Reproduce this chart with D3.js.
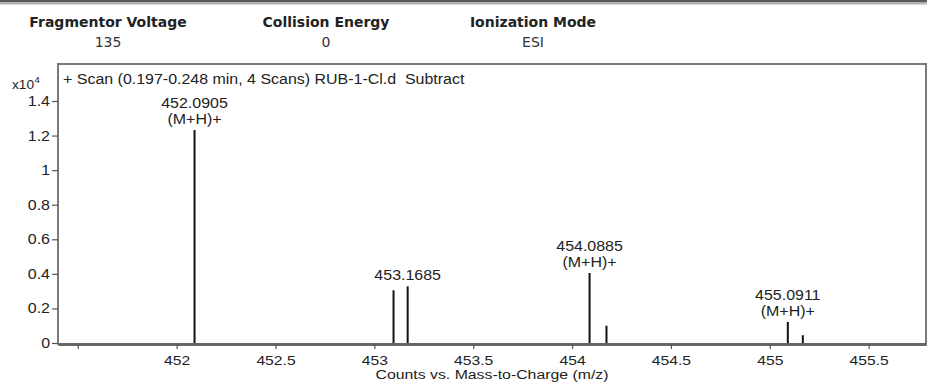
<!DOCTYPE html>
<html>
<head>
<meta charset="utf-8">
<script src="https://cdn.jsdelivr.net/npm/d3@7"></script>
<style>
  body { margin: 0; background: #fff; }
  svg { display: block; }
</style>
</head>
<body>
<script>
// Acquisition header
const headerTitles = ['Fragmentor Voltage', 'Collision Energy', 'Ionization Mode'];
const headerValues = ['135', '0', 'ESI'];

const scanTitle = '+ Scan (0.197-0.248 min, 4 Scans) RUB-1-Cl.d  Subtract';
const xTitle = 'Counts vs. Mass-to-Charge (m/z)';

// Peaks: m/z and counts (x10^4)
const peakMz = [452.0905, 453.097, 453.1685, 454.0885, 454.174, 455.0911, 455.167];
const peakCounts = [1.232, 0.305, 0.328, 0.405, 0.10, 0.122, 0.045];
const peakLabels = [
  ['452.0905', '(M+H)+'],
  [],
  ['453.1685'],
  ['454.0885', '(M+H)+'],
  [],
  ['455.0911', '(M+H)+'],
  [],
];

const xTicks = [451.5, 452, 452.5, 453, 453.5, 454, 454.5, 455, 455.5];
const yTicks = [0, 0.2, 0.4, 0.6, 0.8, 1, 1.2, 1.4];

const Layout = {
  width: 927,
  height: 385,
  plotLeft: 58,
  plotRight: 926,
  plotTop: 64,
  plotBottom: 344,
  headerCenters: [108, 326, 533],
  textStretch: 1.14,
  font: '"Liberation Sans", Arial, sans-serif',
  headerFont: '"DejaVu Sans", Verdana, sans-serif',
  labelGap: 6,
  labelLine: 16,
};

// Text in the reference is slightly wider than it is tall
function stretch(sel, k) {
  sel.each(function () {
    const w = this.getComputedTextLength();
    d3.select(this).attr('textLength', w * k).attr('lengthAdjust', 'spacingAndGlyphs');
  });
}

const svg = d3
  .select('body')
  .append('svg')
  .attr('width', Layout.width)
  .attr('height', Layout.height);

// Top separator band
svg.append('rect').attr('x', 0).attr('y', 0).attr('width', Layout.width).attr('height', 2.5).attr('fill', '#5a5a5a');
svg.append('rect').attr('x', 0).attr('y', 2.5).attr('width', Layout.width).attr('height', 2).attr('fill', '#b4b4b4');

// Header
const header = svg
  .selectAll('.header')
  .data(headerTitles)
  .enter()
  .append('g')
  .attr('class', 'header')
  .attr('transform', (d, i) => `translate(${Layout.headerCenters[i]},0)`);

header
  .append('text')
  .attr('y', 26.5)
  .attr('text-anchor', 'middle')
  .style('font-family', Layout.headerFont)
  .style('font-weight', 'bold')
  .style('font-size', '14px')
  .style('fill', '#222')
  .text(d => d);

header
  .append('text')
  .attr('y', 46.5)
  .attr('text-anchor', 'middle')
  .style('font-family', Layout.headerFont)
  .style('font-size', '14px')
  .style('fill', '#333')
  .text((d, i) => headerValues[i]);

// Scales
const x = d3
  .scaleLinear()
  .domain([451.4, 455.79])
  .range([Layout.plotLeft, Layout.plotRight]);

const y = d3
  .scaleLinear()
  .domain([0, 1.4])
  .range([343, 101]);

// Plot frame
svg
  .append('rect')
  .attr('x', Layout.plotLeft)
  .attr('y', Layout.plotTop)
  .attr('width', Layout.plotRight - Layout.plotLeft)
  .attr('height', Layout.plotBottom - Layout.plotTop)
  .attr('fill', 'none')
  .attr('stroke', '#7a7a7a')
  .attr('stroke-width', 2);

// Scan title
svg
  .append('text')
  .attr('x', 63)
  .attr('y', 84)
  .style('font-family', Layout.font)
  .style('font-size', '14px')
  .style('white-space', 'pre')
  .style('fill', '#222')
  .text(scanTitle)
  .call(stretch, Layout.textStretch);

// Exponent
svg
  .append('text')
  .attr('x', 12)
  .attr('y', 89)
  .style('font-family', Layout.font)
  .style('font-size', '12px')
  .style('fill', '#222')
  .text('x10')
  .call(stretch, Layout.textStretch);
svg
  .append('text')
  .attr('x', 34.5)
  .attr('y', 83)
  .style('font-family', Layout.font)
  .style('font-size', '9.5px')
  .style('fill', '#222')
  .text('4');

// Y axis
const yAxis = svg
  .append('g')
  .attr('transform', `translate(${Layout.plotLeft},0)`)
  .call(
    d3
      .axisLeft(y)
      .tickValues(yTicks)
      .tickSize(6)
      .tickPadding(2)
      .tickFormat(d => String(+d.toFixed(1)))
  );
yAxis.select('.domain').remove();
yAxis.selectAll('line').attr('stroke', '#555').attr('stroke-width', 1.2);
yAxis
  .selectAll('text')
  .style('font-family', Layout.font)
  .style('font-size', '14px')
  .style('fill', '#222')
  .call(stretch, Layout.textStretch);

// X axis
const xAxis = svg
  .append('g')
  .attr('transform', `translate(0,${Layout.plotBottom})`)
  .call(
    d3
      .axisBottom(x)
      .tickValues(xTicks)
      .tickSize(5)
      .tickSizeOuter(0)
      .tickPadding(6)
      .tickFormat(d => (d < 452 ? '' : String(d)))
  );
xAxis.select('.domain').attr('stroke', '#666').attr('stroke-width', 3);
xAxis.selectAll('.tick line').attr('stroke', '#555').attr('stroke-width', 1.2);
xAxis
  .selectAll('text')
  .style('font-family', Layout.font)
  .style('font-size', '13.5px')
  .style('fill', '#222')
  .filter(function () { return this.textContent !== ''; })
  .call(stretch, 1.16);

// X axis title
svg
  .append('text')
  .attr('x', (Layout.plotLeft + Layout.plotRight) / 2)
  .attr('y', 379)
  .attr('text-anchor', 'middle')
  .attr('textLength', 233)
  .attr('lengthAdjust', 'spacingAndGlyphs')
  .style('font-family', Layout.font)
  .style('font-size', '12px')
  .style('fill', '#222')
  .text(xTitle);

// Peaks
const peaks = peakMz.map((mz, i) => ({ mz, counts: peakCounts[i], label: peakLabels[i] }));

svg
  .selectAll('.peak')
  .data(peaks)
  .enter()
  .append('line')
  .attr('class', 'peak')
  .attr('x1', d => x(d.mz))
  .attr('x2', d => x(d.mz))
  .attr('y1', y(0))
  .attr('y2', d => y(d.counts))
  .attr('stroke', '#111')
  .attr('stroke-width', 2);

// Peak annotations
svg
  .selectAll('.peak-label')
  .data(peaks.filter(d => d.label.length))
  .enter()
  .append('text')
  .attr('class', 'peak-label')
  .attr('text-anchor', 'middle')
  .style('font-family', Layout.font)
  .style('font-size', '14px')
  .style('fill', '#222')
  .selectAll('tspan')
  .data(d => d.label.map((line, j) => ({ line, j, n: d.label.length, d })))
  .enter()
  .append('tspan')
  .attr('x', t => x(t.d.mz))
  .attr('y', t => y(t.d.counts) - Layout.labelGap - (t.n - 1 - t.j) * Layout.labelLine)
  .text(t => t.line);

svg.selectAll('.peak-label tspan').each(function () {
  const w = this.getComputedTextLength();
  d3.select(this).attr('textLength', w * Layout.textStretch).attr('lengthAdjust', 'spacingAndGlyphs');
});
</script>
</body>
</html>
